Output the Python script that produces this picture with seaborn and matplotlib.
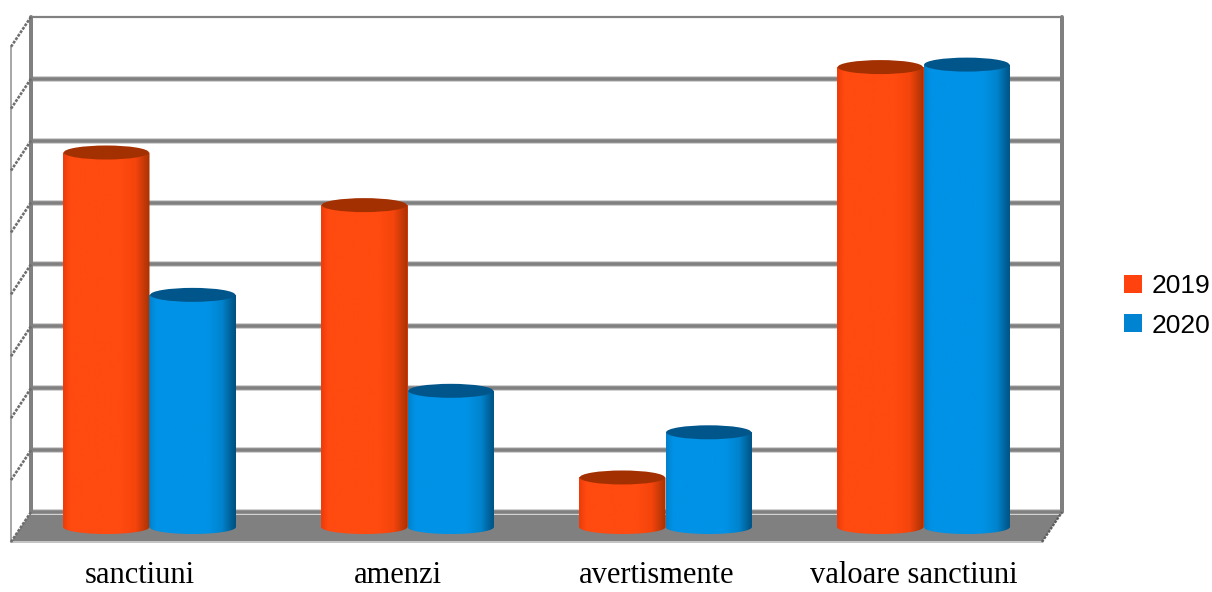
#!/usr/bin/env python3
"""Cylinder style grouped bars: sanctiuni 2019 vs 2020."""

import numpy as np
import pandas as pd
import matplotlib
matplotlib.use("Agg")
import matplotlib.pyplot as plt
from matplotlib.colors import LinearSegmentedColormap
from matplotlib.patches import Ellipse, PathPatch, Polygon
from matplotlib.path import Path
import seaborn as sns

# ─── Data ─────────────────────────────────────────────────────────────────────

categories = ["sanctiuni", "amenzi", "avertismente", "valoare sanctiuni"]
values_2019 = [6.05, 5.2, 0.8, 7.43]
values_2020 = [3.75, 2.2, 1.53, 7.47]
years = ["2019", "2020"]

COLORS = {"2019": "#FF420E", "2020": "#0084D1"}
SHADES = {
    "2019": ["#EE3C0A", "#FF4A10", "#FF4A10", "#F4440C", "#A83204"],
    "2020": ["#0082CC", "#0092E6", "#0092E6", "#0084CE", "#004F7E"],
}
TOPS = {"2019": "#A33000", "2020": "#00568A"}

df = pd.DataFrame({
    "category": categories * 2,
    "year": [years[0]] * 4 + [years[1]] * 4,
    "value": values_2019 + values_2020,
})

# ─── Layout (pixels of a 1212x592 figure at dpi 100) ──────────────────────────

W, H = 1212, 592
LEFT, RIGHT, TOP, BOTTOM = 11, 1062, 17, 542
STEP_PX = 61.9          # one grid step
CAT_PX = 258            # one category
DX = 20 / CAT_PX        # depth of the floor, in x units
DY = 30 / STEP_PX       # depth of the floor, in y units
Y0 = -15 / STEP_PX      # front edge of the floor
X0 = -138.5 / CAT_PX    # front left corner
X1 = X0 + (RIGHT - LEFT) / CAT_PX
Y1 = Y0 + (BOTTOM - TOP) / STEP_PX
CAP = 7 / STEP_PX       # half height of the cylinder ends


def px(width):
    return width * 0.72


sns.set_style("white")
fig = plt.figure(figsize=(W / 100, H / 100), dpi=100)
ax = fig.add_axes([LEFT / W, 1 - BOTTOM / H, (RIGHT - LEFT) / W, (BOTTOM - TOP) / H])

# ─── Cylinders ────────────────────────────────────────────────────────────────

sns.barplot(
    data=df, x="category", y="value", hue="year", order=categories,
    hue_order=years, palette=COLORS, width=0.67, gap=0, dodge=True,
    saturation=1, ax=ax, zorder=3, linewidth=0,
)
ax.set_xlim(X0, X1)
ax.set_ylim(Y0, Y1)

theta = np.linspace(0, np.pi, 60)
for year, container in zip(years, ax.containers):
    cmap = LinearSegmentedColormap.from_list(
        year, list(zip([0, 0.08, 0.68, 0.84, 1], SHADES[year]))
    )
    for bar in container:
        x, w, h = bar.get_x(), bar.get_width(), bar.get_height()
        xs = x + w / 2 - np.cos(theta) * w / 2
        outline = np.r_[
            np.c_[xs, -np.sin(theta) * CAP],
            [[x + w, h], [x, h]],
        ]
        im = ax.imshow(
            np.linspace(0, 1, 128)[None, :], cmap=cmap, aspect="auto",
            extent=(x, x + w, -CAP, h), zorder=3.5,
        )
        im.set_clip_path(PathPatch(Path(outline, closed=False), transform=ax.transData))
        ax.add_patch(Ellipse(
            (x + w / 2, h), w * 0.985, CAP * 2, color=TOPS[year], lw=0, zorder=4,
        ))
ax.set_xlim(X0, X1)
ax.set_ylim(Y0, Y1)

# ─── Walls and floor ──────────────────────────────────────────────────────────

back_y = Y0 + DY + np.arange(9)
back_l, back_r = X0 + DX, X1

ax.add_patch(Polygon(
    [(back_l, Y0 + DY), (back_r, Y0 + DY), (X1 - DX, Y0), (X0, Y0)],
    facecolor="#808080", edgecolor="none", zorder=1,
))
ax.plot([X0, X1 - DX], [Y0, Y0], color="#C4C4C4", lw=px(2), clip_on=False, zorder=1.1)

for y in back_y[:-1]:
    ax.plot([back_l, back_r], [y, y], color="#D2D2D2", lw=px(6), zorder=1.2,
            clip_on=False, solid_capstyle="butt")
    ax.plot([back_l, back_r], [y, y], color="#808080", lw=px(3.6), zorder=1.3,
            clip_on=False, solid_capstyle="butt")
ax.plot([back_l, back_r], [back_y[-1]] * 2, color="#808080", lw=px(2.2), zorder=1.3,
        clip_on=False, solid_capstyle="butt")

for x in (back_l, back_r):
    ax.plot([x, x], [back_y[0], back_y[-1]], color="#808080", lw=px(4), zorder=1.4, clip_on=False)

# left side wall with its stepped slanted lines
ax.plot([X0, X0], [Y0, back_y[-1] - DY], color="#A8A8A8", lw=px(2), zorder=1.4, clip_on=False)
for y in back_y:
    ax.plot([X0, back_l], [y - DY, y], color="#6E6E6E", lw=px(2.6), ls=(0, (1.1, 0.5)),
            zorder=1.5, clip_on=False)
ax.plot([X1 - DX, X1], [Y0, Y0 + DY], color="#5E5E5E", lw=px(2.4), ls=(0, (1.1, 0.5)),
        zorder=1.5, clip_on=False)

# ─── Axes text and legend ─────────────────────────────────────────────────────

ax.set_xticks(np.arange(len(categories)) - 0.036, categories)
ax.set_yticks([])
ax.set_xlabel("")
ax.set_ylabel("")
ax.tick_params(axis="x", length=0, pad=14)
for label in ax.get_xticklabels():
    label.set_fontfamily("Liberation Serif")
    label.set_fontsize(22)
    label.set_color("black")
sns.despine(ax=ax, left=True, bottom=True)

sns.move_legend(
    ax, "center left", bbox_to_anchor=(1124 / W, 1 - 306 / H),
    bbox_transform=fig.transFigure, frameon=False, title=None,
    handlelength=0.68, handleheight=0.68, borderpad=0, borderaxespad=0,
    handletextpad=0.35, labelspacing=0.57, labelcolor="black",
    prop={"family": "Liberation Sans", "size": 19},
)

fig.savefig("out.png", dpi=100)
plt.close(fig)
